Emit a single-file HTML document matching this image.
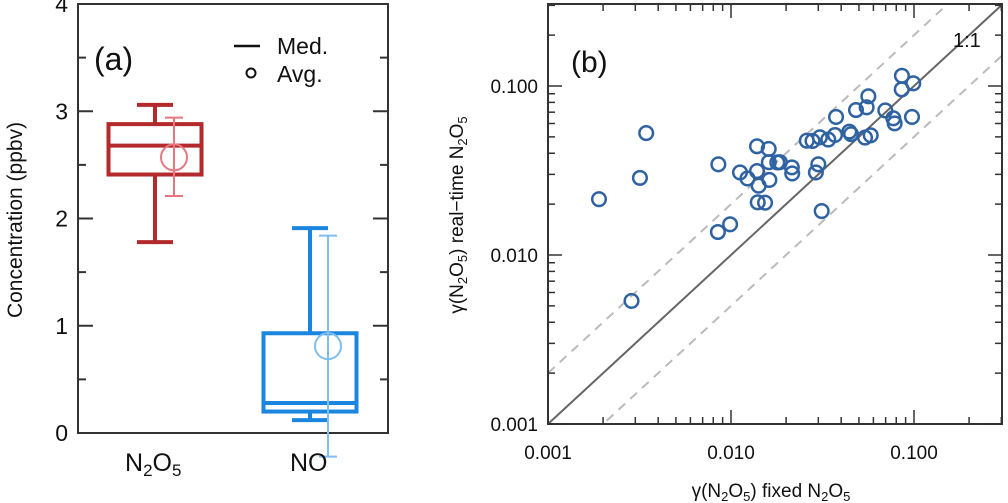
<!DOCTYPE html>
<html><head><meta charset="utf-8"><style>
html,body{margin:0;padding:0;background:#fff;}
svg{display:block;font-family:"Liberation Sans",sans-serif;}
</style></head><body>
<svg id="chart" width="1008" height="503" viewBox="0 0 1008 503">
<g id="pa"></g>
<g id="pb"></g>
</svg>
<script>
// Panel (a) data
const catNames = ["N2O5", "NO"];
const whiskerHigh = [3.06, 1.91];
const q3Vals = [2.88, 0.93];
const medianVals = [2.68, 0.28];
const q1Vals = [2.41, 0.20];
const whiskerLow = [1.78, 0.12];
const avgVals = [2.57, 0.81];
const avgErrHigh = [2.94, 1.84];
const avgErrLow = [2.21, -0.22];
const yTicksA = [0, 1, 2, 3, 4];

// Panel (b) data
const fixedGamma = [0.0019,0.00318,0.00344,0.00286,0.00853,0.00848,0.00989,0.0112,0.0123,0.01387,0.01387,0.01416,0.0140,0.01535,0.01607,0.0161,0.0162,0.0179,0.0185,0.0215,0.0216,0.02594,0.0279,0.0300,0.0291,0.0313,0.0306,0.0340,0.0370,0.0375,0.0443,0.0453,0.0482,0.0540,0.058,0.0551,0.0563,0.0697,0.0771,0.0784,0.0859,0.0857,0.0991,0.0975];
const realGamma = [0.0214,0.0286,0.0527,0.00535,0.0344,0.01368,0.0152,0.0308,0.0284,0.0440,0.0314,0.0257,0.0205,0.0204,0.0424,0.0354,0.0278,0.0353,0.0354,0.0330,0.0304,0.0475,0.0473,0.0344,0.0308,0.0182,0.0497,0.0482,0.0513,0.0656,0.0537,0.0519,0.0721,0.0495,0.0511,0.0748,0.0869,0.0717,0.0644,0.0601,0.115,0.0955,0.1037,0.0656];
const logTickLabels = ["0.001", "0.010", "0.100"];
const logTickVals = [0.001, 0.01, 0.1];

const NS = "http://www.w3.org/2000/svg";
function mk(parent, tag, attrs, text){
  const e = document.createElementNS(NS, tag);
  for (const k in attrs) e.setAttribute(k, attrs[k]);
  if (text !== undefined) e.textContent = text;
  parent.appendChild(e);
  return e;
}

// ---------- Panel A ----------
const pa = document.getElementById('pa');
const AL = 78, AR = 388, AT = 4, AB = 433;
const ya = v => AB - (v - 0) / 4 * (AB - AT);
const catX = [155, 310];
const avgX = [174, 328];
const boxW = 93;
const boxCol = ["#b3292c", "#1a86e0"];
const avgCol = ["#e8767c", "#80bff2"];

let fr = mk(pa, 'rect', {x:AL, y:AT, width:AR-AL, height:AB-AT, fill:'none', stroke:'#333', 'stroke-width':2});


for (let v = 0; v <= 4; v += 0.5) {
  const len = Number.isInteger(v) ? 15 : 8;
  mk(pa, 'line', {x1:AL, x2:AL+len, y1:ya(v), y2:ya(v), stroke:'#333', 'stroke-width':2});
  mk(pa, 'line', {x1:AR-len, x2:AR, y1:ya(v), y2:ya(v), stroke:'#333', 'stroke-width':2});
}
yTicksA.forEach(v => {
  const t = mk(pa, 'text', {x:68, y:ya(v)+8, 'text-anchor':'end', 'font-size':23, fill:'#111'}, String(v));
  
  
});
let yt = mk(pa, 'text', {x:0, y:0, transform:'translate(22,220) rotate(-90)', 'text-anchor':'middle', 'font-size':21, fill:'#111'}, 'Concentration (ppbv)');


let la = mk(pa, 'text', {x:94, y:70, 'font-size':32, fill:'#111'}, '(a)');


// legend
const lg = mk(pa, 'g', {});


mk(lg, 'line', {x1:234, x2:260, y1:46, y2:46, stroke:'#111', 'stroke-width':2.5});
mk(lg, 'text', {x:277, y:54, 'font-size':23, fill:'#111'}, 'Med.');
mk(lg, 'circle', {cx:251, cy:73, r:4.5, fill:'none', stroke:'#111', 'stroke-width':2});
mk(lg, 'text', {x:277, y:82, 'font-size':23, fill:'#111'}, 'Avg.');

catNames.forEach((c, i) => {
  const g = mk(pa, 'g', {});
  
  
  const x = catX[i], col = boxCol[i];
  mk(g, 'line', {x1:x, x2:x, y1:ya(whiskerHigh[i]), y2:ya(q3Vals[i]), stroke:col, 'stroke-width':4});
  mk(g, 'line', {x1:x, x2:x, y1:ya(q1Vals[i]), y2:ya(whiskerLow[i]), stroke:col, 'stroke-width':4});
  mk(g, 'line', {x1:x-18, x2:x+18, y1:ya(whiskerHigh[i]), y2:ya(whiskerHigh[i]), stroke:col, 'stroke-width':4});
  mk(g, 'line', {x1:x-18, x2:x+18, y1:ya(whiskerLow[i]), y2:ya(whiskerLow[i]), stroke:col, 'stroke-width':4});
  mk(g, 'rect', {x:x-boxW/2, y:ya(q3Vals[i]), width:boxW, height:ya(q1Vals[i])-ya(q3Vals[i]), fill:'none', stroke:col, 'stroke-width':4});
  mk(g, 'line', {x1:x-boxW/2, x2:x+boxW/2, y1:ya(medianVals[i]), y2:ya(medianVals[i]), stroke:col, 'stroke-width':4});
  const ax = avgX[i], ac = avgCol[i];
  const ag = mk(pa, 'g', {});
  
  
  mk(ag, 'line', {x1:ax, x2:ax, y1:ya(avgErrHigh[i]), y2:ya(avgErrLow[i]), stroke:ac, 'stroke-width':2});
  mk(ag, 'line', {x1:ax-9, x2:ax+9, y1:ya(avgErrHigh[i]), y2:ya(avgErrHigh[i]), stroke:ac, 'stroke-width':2});
  mk(ag, 'line', {x1:ax-9, x2:ax+9, y1:ya(avgErrLow[i]), y2:ya(avgErrLow[i]), stroke:ac, 'stroke-width':2});
  mk(ag, 'circle', {cx:ax, cy:ya(avgVals[i]), r:13, fill:'none', stroke:ac, 'stroke-width':2});
});
let c1 = mk(pa, 'text', {x:125, y:471, 'font-size':25, fill:'#111'});
c1.innerHTML = 'N<tspan font-size="17" dy="5">2</tspan><tspan dy="-5">O</tspan><tspan font-size="17" dy="5">5</tspan>';


let c2 = mk(pa, 'text', {x:290, y:471, 'font-size':25, fill:'#111'}, 'NO');



// ---------- Panel B ----------
const pb = document.getElementById('pb');
const BL = 548, BR = 1002, BT = 4, BB = 424;
const XDEC = 183, YDEC = 169;
const xb = v => BL + (Math.log10(v) + 3) * XDEC;
const yb = v => BB - (Math.log10(v) + 3) * YDEC;
const xMax = Math.pow(10, (BR-BL)/XDEC - 3), yMax = Math.pow(10, (BB-BT)/YDEC - 3);

const clip = mk(pb, 'clipPath', {id:'cb'});
mk(clip, 'rect', {x:BL, y:BT, width:BR-BL, height:BB-BT});
const lines = mk(pb, 'g', {'clip-path':'url(#cb)'});
[[1,'#666','none','one-to-one-line'],[2,'#bbb','9 7','upper-2x-line'],[0.5,'#bbb','9 7','lower-half-line']].forEach(([f,col,da,nm]) => {
  const l = mk(lines, 'line', {x1:xb(0.001), y1:yb(0.001*f), x2:xb(1), y2:yb(1*f), stroke:col, 'stroke-width':2, 'stroke-dasharray':da});
  
  
});

let frb = mk(pb, 'rect', {x:BL, y:BT, width:BR-BL, height:BB-BT, fill:'none', stroke:'#333', 'stroke-width':2});


for (let d = -3; d <= -1; d++) {
  for (let m = 1; m <= 9; m++) {
    const v = m * Math.pow(10, d);
    const len = m === 1 ? 14 : 7;
    if (v <= xMax) {
      mk(pb, 'line', {x1:xb(v), x2:xb(v), y1:BB, y2:BB-len, stroke:'#333', 'stroke-width':1.5});
      mk(pb, 'line', {x1:xb(v), x2:xb(v), y1:BT, y2:BT+len, stroke:'#333', 'stroke-width':1.5});
    }
    if (v <= yMax) {
      mk(pb, 'line', {x1:BL, x2:BL+len, y1:yb(v), y2:yb(v), stroke:'#333', 'stroke-width':1.5});
      mk(pb, 'line', {x1:BR-len, x2:BR, y1:yb(v), y2:yb(v), stroke:'#333', 'stroke-width':1.5});
    }
  }
}
logTickVals.forEach((v, i) => {
  const tx = mk(pb, 'text', {x:xb(v), y:459, 'text-anchor':'middle', 'font-size':19, fill:'#111'}, logTickLabels[i]);
  
  
  const ty = mk(pb, 'text', {x:538, y:yb(v)+7, 'text-anchor':'end', 'font-size':19, fill:'#111'}, logTickLabels[i]);
  
  
});
let xtb = mk(pb, 'text', {x:771, y:497, 'text-anchor':'middle', 'font-size':19, fill:'#111'});
xtb.innerHTML = 'γ(N<tspan font-size="13" dy="4">2</tspan><tspan dy="-4">O</tspan><tspan font-size="13" dy="4">5</tspan><tspan dy="-4">) fixed N</tspan><tspan font-size="13" dy="4">2</tspan><tspan dy="-4">O</tspan><tspan font-size="13" dy="4">5</tspan>';


let ytb = mk(pb, 'text', {x:0, y:0, transform:'translate(463,215) rotate(-90)', 'text-anchor':'middle', 'font-size':19, fill:'#111'});
ytb.innerHTML = 'γ(N<tspan font-size="13" dy="4">2</tspan><tspan dy="-4">O</tspan><tspan font-size="13" dy="4">5</tspan><tspan dy="-4">) real−time N</tspan><tspan font-size="13" dy="4">2</tspan><tspan dy="-4">O</tspan><tspan font-size="13" dy="4">5</tspan>';


let lb = mk(pb, 'text', {x:571, y:72, 'font-size':30, fill:'#111'}, '(b)');


let l11 = mk(pb, 'text', {x:953, y:47, 'font-size':20, fill:'#111'}, '1:1');



const pts = mk(pb, 'g', {});


fixedGamma.forEach((fx, i) => {
  const c = mk(pts, 'circle', {cx:xb(fx), cy:yb(realGamma[i]), r:6.8, fill:'none', stroke:'#2f62a0', 'stroke-width':2.5});
  
  
});
</script>
</body></html>
